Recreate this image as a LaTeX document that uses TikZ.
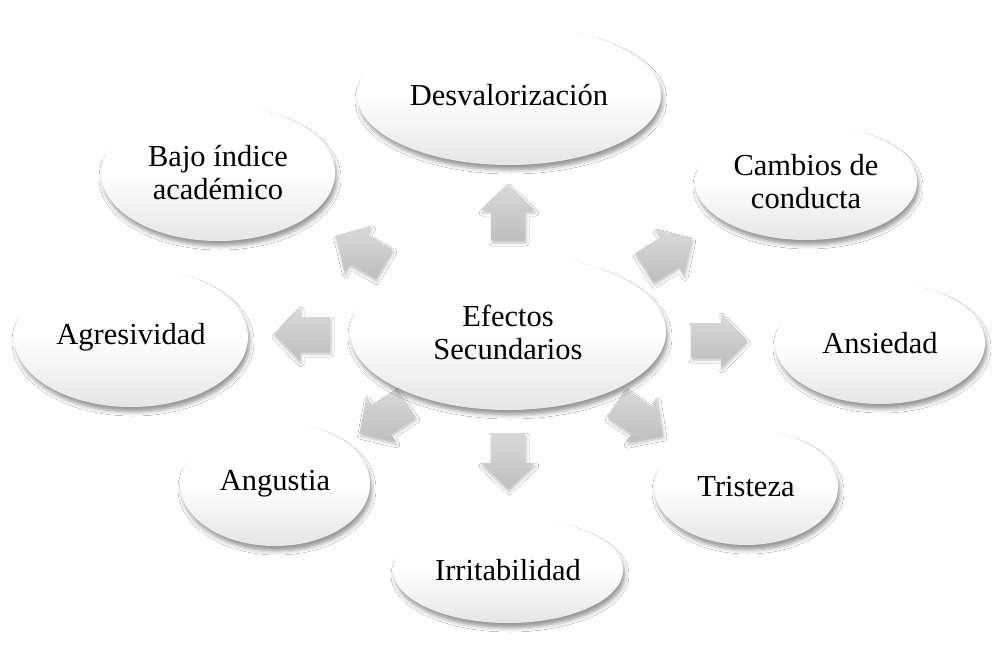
\documentclass[tikz,border=0pt]{standalone}
\usepackage{fontspec}
\setmainfont{Liberation Serif}
\usetikzlibrary{shapes.geometric,shadows.blur}
\pgfdeclareverticalshading{ellshade}{100bp}{color(0bp)=(black!10); color(25bp)=(black!10); color(38bp)=(black!5); color(50bp)=(white); color(100bp)=(white)}
\newcommand\bigarrow[3]{%
  \begin{scope}[shift={#2}, rotate=#3]
    \path[arr] (-28pt,-17pt) -- (2pt,-17pt) -- (2pt,-27pt) -- (28pt,0pt) -- (2pt,27pt) -- (2pt,17pt) -- (-28pt,17pt) -- cycle;
    \coordinate (#1) at (0pt,0pt);
  \end{scope}}
\begin{document}
\begin{tikzpicture}[x=1pt,y=-1pt,
  ell/.style={ellipse, shading=ellshade, inner sep=0pt, align=center,
    font=\fontsize{30.5}{33}\selectfont,
    blur shadow={shadow xshift=2pt, shadow yshift=-5pt, shadow blur radius=4pt, shadow opacity=40}},
  arr/.style={top color=black!15, bottom color=black!25,
    blur shadow={shadow xshift=1pt, shadow yshift=-3pt, shadow blur radius=3pt, shadow opacity=25}}]
\useasboundingbox (0,0) rectangle (999,645);
\fill[white] (0,0) rectangle (999,645);

\bigarrow{aN}{(508,212)}{90}
\bigarrow{aS}{(508,461)}{-90}
\bigarrow{aW}{(302,334)}{180}
\bigarrow{aE}{(719,340)}{0}
\bigarrow{aNW}{(360,250)}{150}
\bigarrow{aNE}{(668,253)}{32}
\bigarrow{aSW}{(383,418)}{213}
\bigarrow{aSE}{(640,419)}{-35}

\node[ell, minimum width=316pt, minimum height=156pt] (center) at (508,332) {Efectos\\Secundarios};
\node[ell, minimum width=304pt, minimum height=140pt] (desv) at (509,95) {Desvalorización};
\node[ell, minimum width=234pt, minimum height=136pt] (bajo) at (218,173) {Bajo índice\\académico};
\node[ell, minimum width=222pt, minimum height=116pt] (camb) at (806,182) {Cambios de\\conducta};
\node[ell, minimum width=234pt, minimum height=140pt] (agre) at (131,337) {Agresividad};
\node[ell, minimum width=210pt, minimum height=122pt] (ansi) at (880,343) {Ansiedad};
\node[ell, minimum width=190pt, minimum height=124pt] (angu) at (275,484) {Angustia};
\node[ell, minimum width=184pt, minimum height=116pt] (tris) at (746,487) {Tristeza};
\node[ell, minimum width=230pt, minimum height=106pt] (irri) at (508,570) {Irritabilidad};
\end{tikzpicture}
\end{document}
